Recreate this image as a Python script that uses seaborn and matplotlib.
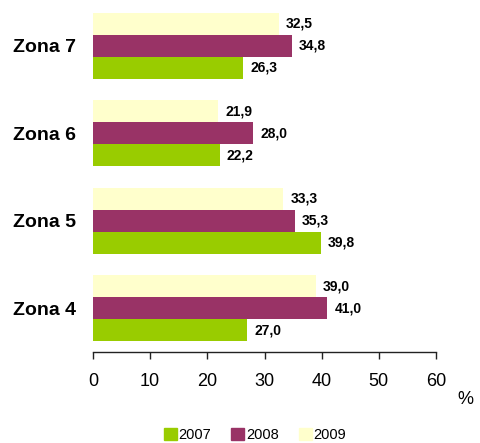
import pandas as pd
import matplotlib.pyplot as plt
import seaborn as sns
from matplotlib.patches import Patch

# data
zones = ['Zona 7', 'Zona 6', 'Zona 5', 'Zona 4']
years = ['2007', '2008', '2009']
v2007 = [26.3, 22.2, 39.8, 27.0]
v2008 = [34.8, 28.0, 35.3, 41.0]
v2009 = [32.5, 21.9, 33.3, 39.0]

colors = {'2007': '#99CC00', '2008': '#993366', '2009': '#FFFFCC'}

df = pd.DataFrame({
    'zona': zones * 3,
    'year': ['2007'] * 4 + ['2008'] * 4 + ['2009'] * 4,
    'value': v2007 + v2008 + v2009,
})

sns.set_style("white")
plt.rcParams['font.family'] = ['Liberation Sans', 'DejaVu Sans']
plt.rcParams['text.color'] = 'black'
plt.rcParams['xtick.color'] = 'black'
plt.rcParams['ytick.color'] = 'black'

fig = plt.figure(figsize=(4.81, 4.43), dpi=100)
ax = fig.add_axes([93 / 481, 1 - 352 / 443, (436 - 93) / 481, 350 / 443])

# 2009 on top of each group, 2007 at the bottom
sns.barplot(data=df, x='value', y='zona', hue='year', order=zones,
            hue_order=['2009', '2008', '2007'], palette=colors,
            orient='h', width=0.75, gap=0, saturation=1, linewidth=0,
            legend=False, ax=ax)

for c in ax.containers:
    ax.bar_label(c, labels=[f'{w:.1f}'.replace('.', ',') for w in c.datavalues],
                 padding=5, fontsize=10, fontweight='bold', color='black')

ax.set_xlim(0, 60)
ax.set_ylim(3.5, -0.5)
ax.set_xticks(range(0, 61, 10))
ax.set_xlabel('')
ax.set_ylabel('')
for s in ['top', 'right', 'left']:
    ax.spines[s].set_visible(False)
ax.spines['bottom'].set_color('#222222')
ax.spines['bottom'].set_linewidth(1)
ax.tick_params(axis='x', bottom=True, direction='out', length=5, width=1,
               color='#222222', pad=10, labelsize=13, labelcolor='black')
ax.tick_params(axis='y', left=False, pad=9, labelcolor='black')
for t in ax.get_yticklabels():
    t.set_fontsize(14)
    t.set_fontweight('bold')

fig.text(465 / 481, 1 - 400 / 443, '%', fontsize=13, ha='center', va='center')

handles = [Patch(color=colors[y], label=y) for y in years]
fig.legend(handles=handles, loc='center', bbox_to_anchor=(255 / 481, 1 - 435 / 443),
           ncol=3, frameon=False, fontsize=10.5, handlelength=0.9, handleheight=0.9,
           handletextpad=0.1, columnspacing=1.4)

fig.savefig('out.png', dpi=100)
